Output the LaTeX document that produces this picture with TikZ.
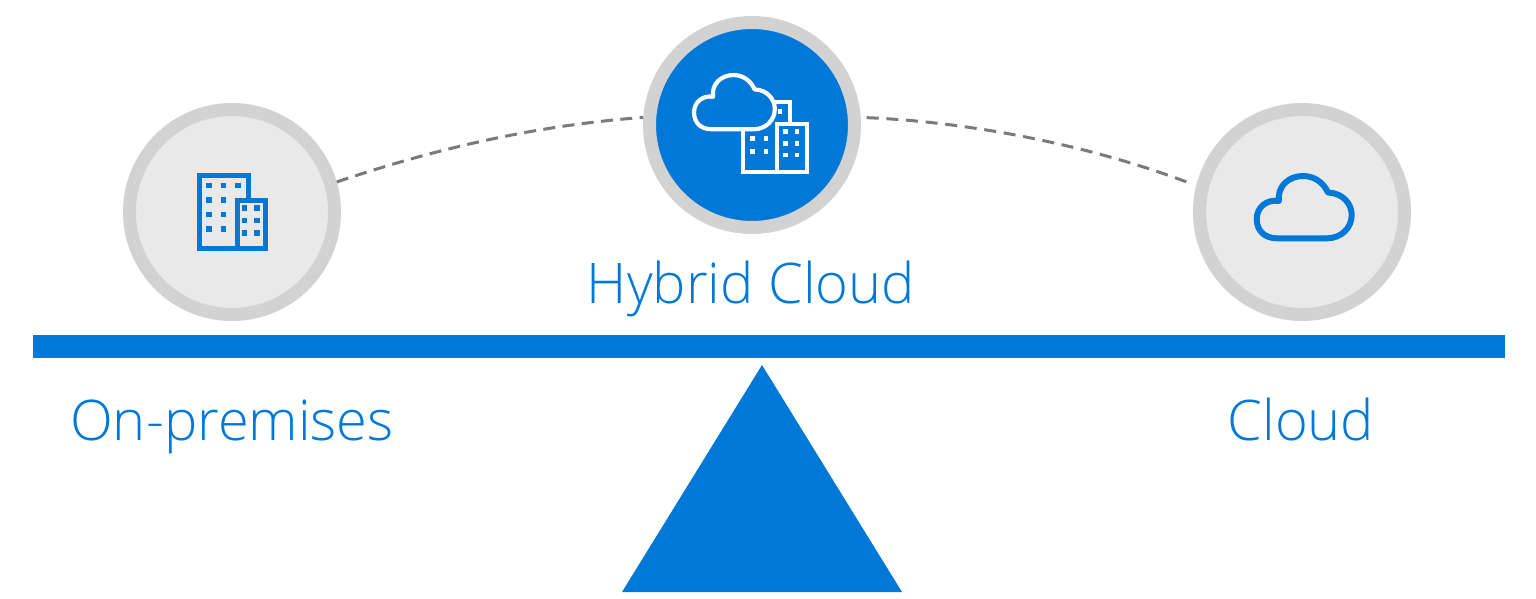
\documentclass[tikz,border=0pt]{standalone}
\usepackage{fontspec}
\setmainfont[UprightFont=* Light]{Open Sans}
\definecolor{azure}{HTML}{0078D7}
\definecolor{ring}{HTML}{D2D2D2}
\definecolor{disc}{HTML}{E9E9E9}
\definecolor{dashline}{HTML}{7A7A7A}
\begin{document}
\begin{tikzpicture}[x = 1pt, y = -1pt,
	site/.style = {circle,draw=ring,line width=13pt,fill=disc,minimum size=205pt,inner sep=0pt},
	title/.style = {text=azure,anchor=base,inner sep=0pt,font=\fontsize{56}{56}\selectfont},
	link/.style = {draw=dashline,line width=3pt,dash pattern=on 12pt off 7.7pt},
	pics/cloudicon/.style = {code = {
		\draw[pic actions,line join=round] (-24,-6) .. controls (-26,-21) and (-14,-31) .. (0,-31)
			.. controls (11,-31) and (20,-25) .. (25,-14.5)
			.. controls (40,-14) and (48.7,-3) .. (48.7,8)
			.. controls (48.7,21) and (38,31.3) .. (24,31.3)
			-- (-26,31.3) .. controls (-38,31.3) and (-46.3,24) .. (-46.3,12)
			.. controls (-46.3,0) and (-36,-8) .. (-24,-6) -- cycle;
	}},
]
	\useasboundingbox (0,0) rectangle (1536,598);

	\node[site] (onprem) at (232,212) {};
	\node[site,fill=azure] (hybrid) at (752,125) {};
	\node[site] (cloud) at (1302,212) {};

	\draw[link,dash pattern=on 12pt off 7.4pt] (onprem.16) .. controls (440,147) and (540,125) .. (hybrid.176);
	\draw[link,shorten <=6pt,shorten >=6pt] (hybrid.4) .. controls (970,122) and (1090,145) .. (cloud.166);

	% beam and pivot
	\fill[azure] (33,335) rectangle (1505,358);
	\fill[azure] (762,365) -- (902,592) -- (622,592) -- cycle;

	\node[title] (hybridtext) at (751,303) {Hybrid Cloud};
	\node[title] (onpremtext) at (232,440) {On-premises};
	\node[title] (cloudtext) at (1301,440) {Cloud};

	% on-premises icon
	\draw[azure,line width=5pt,line join=miter] (248,200) -- (248,175.5) -- (199.5,175.5) -- (199.5,248) -- (265.5,248) -- (265.5,200) -- (237,200) -- (237,248);
	\foreach \x/\y in {208.7/185.3,223.3/185.3,238/185.3,208.7/200,223.3/200,208.7/214.3,223.3/214.3,208.7/229,223.3/229,244.3/207.7,257/207.7,244.3/220.3,257/220.3,244.3/232.7,257/232.7}
		\fill[azure] (\x-2.8,\y-2.8) rectangle (\x+2.8,\y+2.8);

	% hybrid icon
	\draw[white,line width=4pt] (770,101.7) -- (790,101.7) -- (790,124);
	\draw[white,line width=4pt] (742.7,125) -- (742.7,171.7) -- (806.7,171.7) -- (806.7,124) -- (777,124) -- (777,171.7);
	\foreach \x/\y in {780/111.7,752.3/138.3,766/138.3,752.3/151.7,766/151.7,785.3/131.7,797/131.7,785.3/143.7,797/143.7,785.3/155,797/155}
		\fill[white] (\x-2.3,\y-2.3) rectangle (\x+2.3,\y+2.3);
	\pic[draw=white,fill=azure,line width=4.2pt,xscale=.85,yscale=.87] at (733.4,102) {cloudicon};

	% cloud icon
	\pic[draw=azure,line width=6pt] at (1303,207) {cloudicon};
\end{tikzpicture}
\end{document}
